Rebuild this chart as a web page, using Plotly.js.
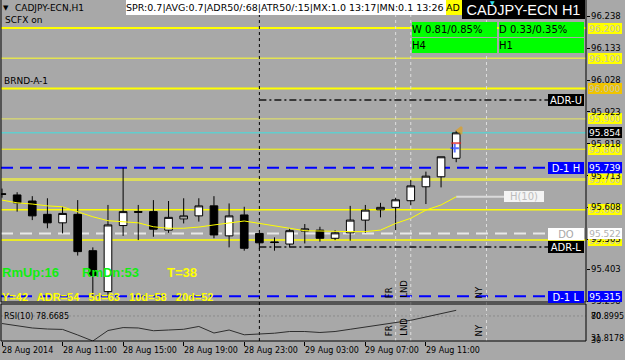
<!DOCTYPE html>
<html><head><meta charset="utf-8">
<script src="https://cdn.plot.ly/plotly-3.0.1.min.js"></script>
<style>html,body{margin:0;padding:0;background:#a8a8a8;}#chart{width:625px;height:360px;}</style>
</head><body><div id="chart"></div>
<script>
// ---------------- DATA ----------------
const barTimes = ['28 Aug 07:00','28 Aug 08:00','28 Aug 09:00','28 Aug 10:00','28 Aug 11:00','28 Aug 12:00','28 Aug 13:00','28 Aug 14:00','28 Aug 15:00','28 Aug 16:00','28 Aug 17:00','28 Aug 18:00','28 Aug 19:00','28 Aug 20:00','28 Aug 21:00','28 Aug 22:00','28 Aug 23:00','29 Aug 00:00','29 Aug 01:00','29 Aug 02:00','29 Aug 03:00','29 Aug 04:00','29 Aug 05:00','29 Aug 06:00','29 Aug 07:00','29 Aug 08:00','29 Aug 09:00','29 Aug 10:00','29 Aug 11:00','29 Aug 12:00','29 Aug 13:00'];
const opens  = [95.653,95.649,95.629,95.585,95.557,95.585,95.465,95.330,95.548,95.594,95.594,95.533,95.570,95.580,95.613,95.514,95.583,95.522,95.494,95.487,95.530,95.533,95.506,95.524,95.566,95.600,95.608,95.630,95.676,95.709,95.770];
const highs  = [95.670,95.658,95.645,95.638,95.610,95.632,95.476,95.616,95.739,95.616,95.632,95.629,95.638,95.638,95.645,95.621,95.610,95.522,95.509,95.539,95.553,95.544,95.533,95.613,95.616,95.623,95.639,95.698,95.726,95.775,95.861];
const lows   = [95.640,95.594,95.566,95.539,95.522,95.449,95.315,95.320,95.514,95.500,95.511,95.524,95.555,95.561,95.506,95.476,95.465,95.470,95.465,95.476,95.489,95.495,95.500,95.498,95.524,95.575,95.533,95.616,95.619,95.674,95.757];
const closes = [95.651,95.623,95.580,95.557,95.588,95.462,95.383,95.550,95.594,95.592,95.536,95.575,95.580,95.613,95.517,95.580,95.473,95.491,95.492,95.531,95.537,95.506,95.524,95.566,95.599,95.608,95.633,95.679,95.711,95.775,95.854];
const maValues = [95.632,95.623,95.619,95.613,95.610,95.594,95.577,95.564,95.561,95.557,95.544,95.539,95.539,95.543,95.550,95.557,95.563,95.555,95.547,95.539,95.531,95.530,95.528,95.528,95.528,95.533,95.555,95.572,95.599,95.616,95.643];
const rsiValues = [58.5,55.3,51.7,50.1,49.5,41.0,31.8,47.8,52.3,51.7,47.5,48.6,49.7,54.0,44.0,48.6,41.3,42.5,43.7,46.3,46.3,44.8,46.3,49.7,52.9,55.9,59.3,63.4,68.5,74.1,78.67];

const timeTickBars   = [0,4,8,12,16,20,24,28];
const timeTickLabels = ['28 Aug 2014','28 Aug 11:00','28 Aug 15:00','28 Aug 19:00','28 Aug 23:00','29 Aug 03:00','29 Aug 07:00','29 Aug 11:00'];
const priceTicks  = [96.238,96.133,96.028,95.923,95.818,95.713,95.608,95.503,95.403,95.298];
const priceTickLabels = ['96.238','96.133','96.028','95.923','95.818','95.713','95.608','95.503','95.403','95.298'];
const roundLevels = [96.2,96.1,96.0,95.9,95.8,95.7,95.6,95.5];
const roundLabels = ['96.200','96.100','96.000','95.900','95.800','95.700','95.600','95.500'];
const bidPrice = 95.854;
const dayHigh = 95.739, dayLow = 95.315, dayOpen = 95.522;
const adrUpper = 95.962, adrLower = 95.477;
const dayStartBar = 17;
const sessionBars  = [26, 27, 32];
const sessionNames = ['FR', 'LND', 'NY'];
const h10Value = 95.643;
const rsiLevel = 70, rsiLevelLow = 30, rsiMaxLabel = '80.8995', rsiMinLabel = '31.8178', rsiLastLabel = '78.6685';
const tradeMarkPrices = [95.862, 95.820, 95.803];

// ---------------- GEOMETRY / STYLE ----------------
const PL = 1, PW = 585, PH = 341;
const XR = [-0.066, 38.574];
const pxX = p => (p - PL) / PW;
const pxY = p => 1 - p / PH;
const barAtPx = p => XR[0] + (p - PL) / PW * (XR[1] - XR[0]);
const F = 'DejaVu Sans', FA = 'Liberation Sans';
const BG = '#a8a8a8';
const bars = barTimes.map((t, i) => i);
const last = bars[bars.length - 1];

const levelStyle = [
  {c:'#ffff00', w:2}, {c:'#e4e450', w:1.5}, {c:'#ffff00', w:2}, {c:'#e8e860', w:1},
  {c:'#ffff00', w:1}, {c:'#dcdc5c', w:3}, {c:'#ffff00', w:1.5}, {c:'#ffff00', w:1.5}
];

const traces = [
  {type:'candlestick', x:bars, open:opens, high:highs, low:lows, close:closes,
   xaxis:'x', yaxis:'y', hoverinfo:'skip', whiskerwidth:0,
   increasing:{line:{color:'#000', width:1}, fillcolor:'#ffffff'},
   decreasing:{line:{color:'#000', width:1}, fillcolor:'#000000'}},
  {type:'scatter', mode:'lines', x:bars, y:maValues, xaxis:'x', yaxis:'y',
   line:{color:'#ffff00', width:1}, hoverinfo:'skip'},
  {type:'scatter', mode:'lines', x:bars, y:rsiValues, xaxis:'x', yaxis:'y2',
   line:{color:'#2e2e2e', width:1}, hoverinfo:'skip'},
  {type:'scatter', mode:'markers', x:[last + 0.25, last, last - 0.1], y:tradeMarkPrices, xaxis:'x', yaxis:'y',
   marker:{symbol:['triangle-left','line-ew','cross-thin'], size:[6,7,6], color:['#e0a020','#e02020','#1030ff'],
           line:{color:['#e0a020','#e02020','#1030ff'], width:2}}, hoverinfo:'skip'}
];

const shapes = [];
roundLevels.forEach((v, k) => shapes.push({type:'line', xref:'paper', x0:0, x1:1, yref:'y', y0:v, y1:v,
  layer:'below', line:{color:levelStyle[k].c, width:levelStyle[k].w}}));
shapes.push({type:'line', xref:'paper', x0:0, x1:1, yref:'y', y0:bidPrice, y1:bidPrice, layer:'below', line:{color:'#40e0e0', width:1}});
[dayHigh, dayLow].forEach(v => shapes.push({type:'line', xref:'paper', x0:0, x1:1, yref:'y', y0:v, y1:v, layer:'below',
  line:{color:'#0000ff', width:2, dash:'12px,7px'}}));
shapes.push({type:'line', xref:'paper', x0:0, x1:1, yref:'y', y0:dayOpen, y1:dayOpen, layer:'below',
  line:{color:'#e8e8e8', width:2, dash:'12px,7px'}});
[adrUpper, adrLower].forEach(v => shapes.push({type:'line', xref:'x', x0:dayStartBar, x1:barAtPx(548), yref:'y', y0:v, y1:v, layer:'below',
  line:{color:'#383838', width:2, dash:'7px,3px,2px,3px'}}));
shapes.push({type:'line', xref:'x', x0:last, x1:barAtPx(504), yref:'y', y0:h10Value, y1:h10Value, layer:'below',
  line:{color:'#dadada', width:2}});
shapes.push({type:'line', xref:'x', x0:dayStartBar, x1:dayStartBar, yref:'paper', y0:0, y1:1, layer:'below',
  line:{color:'#000', width:1, dash:'3px,3px'}});
sessionBars.forEach(b => shapes.push({type:'line', xref:'x', x0:b, x1:b, yref:'paper', y0:0, y1:1, layer:'below',
  line:{color:'#dedede', width:1, dash:'3px,3px'}}));
shapes.push({type:'line', xref:'paper', x0:0, x1:1, yref:'y2', y0:rsiLevel, y1:rsiLevel, layer:'below',
  line:{color:'#8a8a8a', width:1, dash:'2px,2px'}});
const mainBottom = (PH - 302) / PH, rsiTop = (PH - 304) / PH;
shapes.push({type:'rect', xref:'paper', yref:'paper', x0:0, x1:1, y0:mainBottom, y1:1.01, line:{color:'#000', width:1}});
shapes.push({type:'rect', xref:'paper', yref:'paper', x0:0, x1:1, y0:0, y1:rsiTop, line:{color:'#000', width:1}});

const ann = [];
function T(text, x, y, o) {
  o = o || {};
  const a = {text:text, xref:o.xref || 'paper', yref:o.yref || 'paper',
    x:o.xref ? x : pxX(x), y:(o.yref && o.yref !== 'paper') ? y : pxY(y),
    xanchor:o.xa || 'left', yanchor:o.ya || 'middle', showarrow:false, borderpad:0, borderwidth:0,
    font:{family:o.f || F, size:o.s || 9, color:o.c || '#000', weight:o.b ? 'bold' : 'normal'}};
  if (o.bg) a.bgcolor = o.bg;
  if (o.w) a.width = o.w;
  if (o.h) a.height = o.h;
  if (o.align) a.align = o.align;
  if (o.ta !== undefined) a.textangle = o.ta;
  if (o.xs) a.xshift = o.xs;
  ann.push(a);
}
// header
T('▼', 3, 8, {s:7});
T('CADJPY-ECN,H1', 15, 8, {s:9});
T('SCFX on', 5, 20, {s:9});
T('SPR:0.7|AVG:0.7|ADR50/:68|ATR50/:15|MX:1.0 13:17|MN:0.1 13:26', 126, 0, {ya:'top', s:9.5, bg:'#ffffff', w:320, h:15, align:'left'});
T('AD', 446, 0, {ya:'top', s:9.5, bg:'#ffff00', w:16, h:15, align:'left'});
T('CADJPY-ECN H1', 462, 0, {ya:'top', s:14.5, f:FA, c:'#ffffff', bg:'#000000', w:123, h:19});
T('▼', 492, 3, {ya:'middle', s:6, c:'#30e0f0', xa:'center'});
T('W 0.81/0.85%', 412, 22, {ya:'top', s:10, bg:'#00ff00', w:85, h:15, align:'left'});
T('D 0.33/0.35%', 499, 22, {ya:'top', s:10, bg:'#00ff00', w:85, h:15, align:'left'});
T('H4', 412, 38, {ya:'top', s:10, bg:'#00ff00', w:85, h:15, align:'left'});
T('H1', 499, 38, {ya:'top', s:10, bg:'#00ff00', w:85, h:15, align:'left'});
T('BRND-A-1', 4, 81, {s:9});
T('RmUp:16', 2, 272, {s:13, f:FA, b:true, c:'#10ee10'});
T('RmDn:53', 82, 272, {s:13, f:FA, b:true, c:'#10ee10'});
T('T=38', 167, 272, {s:13, f:FA, b:true, c:'#ffff00'});
T('Y=42   ADR=54   5d=63   10d=58   20d=52', 2, 297, {s:11, f:FA, b:true, c:'#ffff00'});
T('RSI(10) ' + rsiLastLabel, 4, 316, {s:8});
// line labels
T('ADR-U', 548, 100, {s:10, c:'#fff', bg:'#000', w:36, h:12});
T('D-1 H', 548, 168, {s:10, c:'#fff', bg:'#0000ff', w:36, h:12});
T('DO', 548, 234, {s:10, c:'#a8a8a8', bg:'#ffffff', w:36, h:12});
T('ADR-L', 548, 247, {s:10, c:'#fff', bg:'#000', w:36, h:12});
T('D-1 L', 548, 297, {s:10, c:'#fff', bg:'#0000ff', w:36, h:12});
T('H(10)', 504, h10Value, {yref:'y', s:10, c:'#bcbcbc', bg:'#f4f4f4', w:40, h:11});
// session names
sessionBars.forEach((b, k) => {
  T(sessionNames[k], b, 298, {xref:'x', ya:'bottom', xa:'center', ta:-90, s:8.5, xs:-7});
  T(sessionNames[k], b, 336, {xref:'x', ya:'bottom', xa:'center', ta:-90, s:8.5, xs:-7});
});
// price scale
roundLevels.forEach((v, k) => T(roundLabels[k], 587.5, v, {yref:'y', s:9, c:'#c4c4b0', bg:(v === 96.0 ? '#f0c400' : '#ffff00'), w:34, h:11}));
priceTicks.forEach((v, k) => T(priceTickLabels[k], 590.5, v, {yref:'y', s:8.5}));
T(dayOpen.toFixed(3), 587.5, dayOpen, {yref:'y', s:9, c:'#b0b0b0', bg:'#ffffff', w:34, h:11});
T(bidPrice.toFixed(3), 587.5, bidPrice, {yref:'y', s:9, c:'#ffffff', bg:'#000000', w:34, h:11});
T(dayHigh.toFixed(3), 587.5, dayHigh, {yref:'y', s:9, c:'#ffffff', bg:'#0000ff', w:34, h:11});
T(dayLow.toFixed(3), 587.5, dayLow, {yref:'y', s:9, c:'#ffffff', bg:'#0000ff', w:34, h:11});
T(String(rsiLevel), 590.5, 316, {s:8});
T(rsiMaxLabel, 590.5, 316, {s:8});
T(String(rsiLevelLow), 590.5, 340, {s:8});
T(rsiMinLabel, 590.5, 338, {s:8});
// time labels
timeTickBars.forEach((b, k) => T(timeTickLabels[k], b, 346, {xref:'x', ya:'top', s:8}));

const layout = {
  width:625, height:360, margin:{l:PL, r:625 - PL - PW, t:0, b:360 - PH},
  paper_bgcolor:BG, plot_bgcolor:BG, showlegend:false, boxgap:0.28,
  xaxis:{range:XR, rangeslider:{visible:false}, showgrid:false, zeroline:false, showline:false,
         ticks:'outside', ticklen:4, tickcolor:'#000', tickwidth:1, tickmode:'array', tickvals:timeTickBars,
         showticklabels:false, anchor:'y2', fixedrange:true},
  yaxis:{domain:[mainBottom, 1], range:[95.2957, 96.2924], side:'right', showgrid:false, zeroline:false,
         ticks:'outside', ticklen:3, tickcolor:'#000', tickmode:'array', tickvals:priceTicks,
         showticklabels:false, fixedrange:true},
  yaxis2:{domain:[0, rsiTop], range:[31.8, 88.3], side:'right', showgrid:false, zeroline:false,
          showticklabels:false, ticks:'', fixedrange:true},
  shapes:shapes, annotations:ann
};
Plotly.newPlot('chart', traces, layout, {staticPlot:true, displayModeBar:false});
</script></body></html>
